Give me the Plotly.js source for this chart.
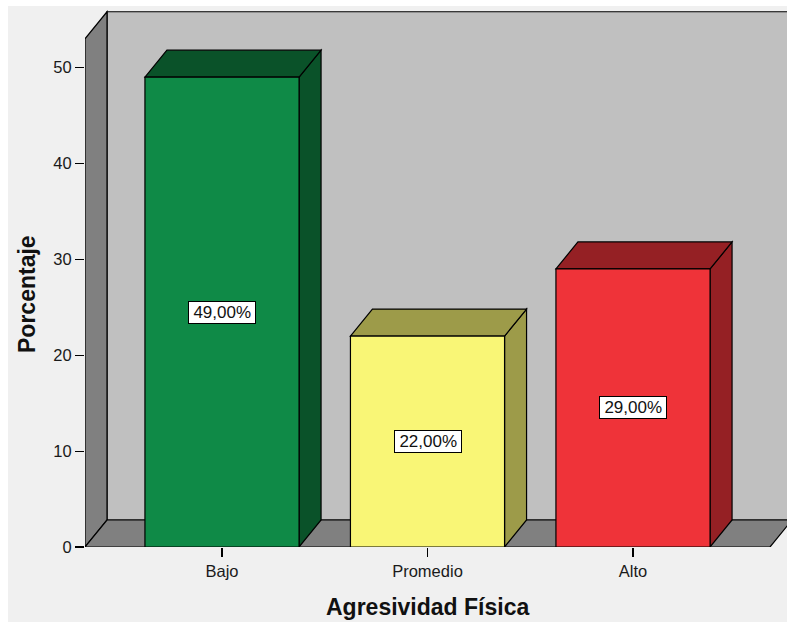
<!DOCTYPE html>
<html>
<head>
<meta charset="utf-8">
<script src="https://cdn.plot.ly/plotly-3.0.1.min.js"></script>
<style>
  html, body { margin: 0; padding: 0; background: #ffffff; width: 787px; height: 622px; overflow: hidden; }
  #chart { position: absolute; left: 8px; top: 6px; width: 779px; height: 616px; }
</style>
</head>
<body>
<div id="chart"></div>
<script>
// ---- data ----
const categories = ['Bajo', 'Promedio', 'Alto'];
const percentages = [49, 22, 29];
const yTickValues = [0, 10, 20, 30, 40, 50];
const xTitle = 'Agresividad Física';
const yTitle = 'Porcentaje';

// ---- styles ----
const frontColors = ['#0f8a47', '#f9f676', '#ef3339'];
const shadeColors = ['#0a5229', '#9d9b49', '#952024'];
const FONT = 'Liberation Sans, Arial, sans-serif';

// ---- geometry (layout) ----
const plotW = 702, plotH = 537;
const catStepPx = 205.5;
const xLeft = -137 / catStepPx;
const xRange = [xLeft, xLeft + plotW / catStepPx];
const yRange = [0, 56];
const pxPerX = plotW / (xRange[1] - xRange[0]);
const pxPerY = plotH / (yRange[1] - yRange[0]);
const DX = 22 / pxPerX;       // depth offset in x data units
const DY = 27 / pxPerY;       // depth offset in y data units
const wallTop = 53;
const xFrontRight = 2 - xLeft;
const barWidth = 0.75;

const xs = categories.map((_, i) => i);

function poly(pts) {
  return 'M ' + pts.map(p => p[0] + ',' + p[1]).join(' L ') + ' Z';
}
const edge = { color: '#000000', width: 1.2 };
const shapes = [];
// back wall
shapes.push({ type: 'path', layer: 'below', xref: 'x', yref: 'y', fillcolor: '#c0c0c0', line: edge,
  path: poly([[xLeft + DX, DY], [xFrontRight + DX, DY], [xFrontRight + DX, wallTop + DY], [xLeft + DX, wallTop + DY]]) });
// left wall
shapes.push({ type: 'path', layer: 'below', xref: 'x', yref: 'y', fillcolor: '#808080', line: edge,
  path: poly([[xLeft, 0], [xLeft, wallTop], [xLeft + DX, wallTop + DY], [xLeft + DX, DY]]) });
// floor
shapes.push({ type: 'path', layer: 'below', xref: 'x', yref: 'y', fillcolor: '#808080', line: edge,
  path: poly([[xLeft, 0], [xFrontRight, 0], [xFrontRight + DX, DY], [xLeft + DX, DY]]) });
// bar top and side faces
xs.forEach((x, i) => {
  const v = percentages[i];
  const l = x - barWidth / 2, r = x + barWidth / 2;
  shapes.push({ type: 'path', layer: 'below', xref: 'x', yref: 'y', fillcolor: shadeColors[i], line: edge,
    path: poly([[r, 0], [r, v], [r + DX, v + DY], [r + DX, DY]]) });
  shapes.push({ type: 'path', layer: 'below', xref: 'x', yref: 'y', fillcolor: shadeColors[i], line: edge,
    path: poly([[l, v], [r, v], [r + DX, v + DY], [l + DX, v + DY]]) });
});

const annotations = xs.map((x, i) => ({
  x: x, y: percentages[i] / 2, xref: 'x', yref: 'y',
  text: '\u2009' + percentages[i].toFixed(2).replace('.', ',') + '%\u2009',
  showarrow: false, bgcolor: '#ffffff', bordercolor: '#000000', borderwidth: 1, borderpad: 1,
  font: { family: FONT, size: 17, color: '#111111' }
}));
annotations.push({
  xref: 'paper', yref: 'paper', x: (427 - 85) / plotW, y: (547 - 607) / plotH,
  xanchor: 'center', yanchor: 'middle', showarrow: false, text: xTitle,
  font: { family: FONT, size: 23, color: '#111111', weight: 'bold' }
});
annotations.push({
  xref: 'paper', yref: 'paper', x: (27 - 85) / plotW, y: (547 - 294) / plotH,
  xanchor: 'center', yanchor: 'middle', showarrow: false, text: yTitle, textangle: -90,
  font: { family: FONT, size: 23, color: '#111111', weight: 'bold' }
});

const trace = {
  type: 'bar', x: xs, y: percentages, width: barWidth,
  marker: { color: frontColors, line: { color: '#000000', width: 1.2 } },
  hoverinfo: 'skip', showlegend: false
};

const layout = {
  width: 779, height: 616,
  margin: { l: 77, r: 0, t: 4, b: 75 },
  paper_bgcolor: '#f0f0f0', plot_bgcolor: 'rgba(0,0,0,0)',
  showlegend: false,
  xaxis: {
    range: xRange, tickmode: 'array', tickvals: xs, ticktext: categories,
    ticks: 'outside', ticklen: 9, tickcolor: '#000000', tickwidth: 1.2,
    showgrid: false, zeroline: false, showline: false, fixedrange: true,
    tickfont: { family: FONT, size: 16.5, color: '#1a1a1a' }
  },
  yaxis: {
    range: yRange, tickmode: 'array', tickvals: yTickValues,
    ticks: 'outside', ticklen: 9, tickcolor: '#000000', tickwidth: 1.2,
    showgrid: false, zeroline: false, showline: false, fixedrange: true,
    tickfont: { family: FONT, size: 16.5, color: '#1a1a1a' }
  },
  shapes: shapes,
  annotations: annotations
};

Plotly.newPlot('chart', [trace], layout, { displayModeBar: false, staticPlot: true });
</script>
</body>
</html>
